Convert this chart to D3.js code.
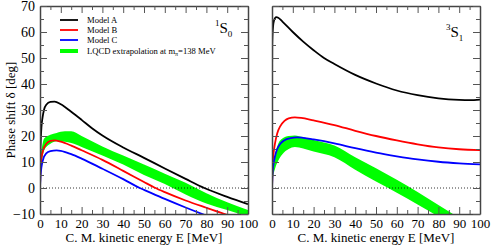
<!DOCTYPE html>
<html>
<head>
<meta charset="utf-8">
<script src="https://cdn.jsdelivr.net/npm/d3@7"></script>
<style>
body { margin: 0; background: #fff; }
svg { display: block; font-family: "Liberation Serif", "Times New Roman", serif; }
.axis path { stroke: #444; stroke-width: 1.5; }
.axis line { stroke: #555; stroke-width: 1; }
.axis text { font-family: "Liberation Serif", serif; fill: #000; }
</style>
</head>
<body>
<div id="chart"></div>
<script>
// [E (MeV), phase shift (deg)]
var s0ModelA = [[0,0],[0.15,12],[0.4,19],[0.7,23.5],[1.2,27],[2,30.3],[3,32],[5,33.1],[7,33.2],[10,32.2],[15,29.3],[20,26.2],[25,23],[30,20.2],[40,15.6],[50,11.6],[60,7.5],[70,3.5],[79,0],[90,-3.4],[100,-6.2]];
var s0ModelB = [[0,0],[0.3,8],[0.7,11.5],[1.5,14.5],[3,17],[5,18.1],[7,18.3],[10,17.8],[15,16.3],[20,14.5],[30,10.8],[40,6.6],[50,2.3],[55,0.2],[60,-1.6],[70,-4.8],[80,-7.6],[90,-10.3],[100,-12.8]];
var s0ModelC = [[0,0],[0.3,5],[0.7,8],[1.5,11],[3,13.3],[5,14.2],[8,14.5],[10,14.3],[15,13],[20,11.3],[30,7.4],[40,3.4],[48,0],[50,-0.7],[60,-4.2],[70,-7.5],[80,-10.6],[90,-13.4],[100,-16]];
var s0BandE = [0.3,2,5,8,12,15,20,30,40,50,60,70,80,90,100];
var s0BandHi = [12,19,20.5,21.2,21.8,21.8,20,16,12.5,9,5.5,2,-2,-5.5,-8.5];
var s0BandLo = [6,14.5,17,18,17.8,17.3,15.8,12.5,9,5,1.5,-2.5,-6,-8.5,-11];

var s1ModelA = [[0,0],[0.02,40],[0.1,55],[0.4,61],[1,64.5],[2,65.7],[3,65.5],[5,64],[10,60],[15,56.3],[20,53],[25,50],[30,47.7],[40,43.5],[50,40.2],[60,37.5],[70,35.7],[80,34.5],[90,33.9],[95,33.8],[100,34]];
var s1ModelB = [[0,0],[0.3,9],[0.7,13],[1.4,17],[2.5,21],[4,23.8],[6,25.8],[8,26.8],[11,27.2],[14,27],[20,26],[30,24.2],[40,22],[50,20],[60,18.3],[70,16.8],[80,15.6],[90,14.9],[100,14.6]];
var s1ModelC = [[0,0],[0.3,6],[0.7,9],[1.4,12],[2.5,15],[4,17],[6,18.4],[9,19.2],[12,19.5],[15,19.3],[20,18.7],[30,17.2],[40,15.3],[50,13.6],[60,12.2],[70,11],[80,10.1],[90,9.5],[100,9.1]];
var s1BandE = [0,0.5,1.5,3,5,8,11,15,20,30,40,50,60,70,80,90];
var s1BandHi = [0,8,13,17,19,20,20.2,19.5,18.5,16.3,11.8,7.6,3.2,-1.5,-6.5,-11.5];
var s1BandLo = [0,4,7.5,10.5,13,15,15.8,15.2,14,11.8,7,2.5,-1.8,-6.3,-11,-16];

var xTicks = [0,10,20,30,40,50,60,70,80,90,100];
var yTicks = [-10,0,10,20,30,40,50,60,70];
var legendNames = ["Model A", "Model B", "Model C", "LQCD extrapolation at m"];
var legendColors = ["#000000", "#ff0000", "#0000ff", "#00ff00"];

var width = 491, height = 246;
var plotTop = 6, plotBottom = 214, panelW = 208;
var panelLeft = [40, 272];

var svg = d3.select("#chart").append("svg")
    .attr("width", width)
    .attr("height", height);

var y = d3.scaleLinear().domain([-10, 70]).range([plotBottom, plotTop]);

var line = function (x) {
    return d3.line()
        .x(function (d) { return x(d[0]); })
        .y(function (d) { return y(d[1]); })
        .curve(d3.curveMonotoneX);
};

function drawPanel(idx, models, bandE, bandHi, bandLo, label, sup, sub, labelPos) {
    var x0 = panelLeft[idx];
    var x = d3.scaleLinear().domain([0, 100]).range([x0, x0 + panelW]);
    var g = svg.append("g");

    g.append("clipPath").attr("id", "clip" + idx)
        .append("rect")
        .attr("x", x0).attr("y", plotTop)
        .attr("width", panelW).attr("height", plotBottom - plotTop);

    var plot = g.append("g").attr("clip-path", "url(#clip" + idx + ")");

    // LQCD band
    var area = d3.area()
        .x(function (d, i) { return x(bandE[i]); })
        .y0(function (d, i) { return y(bandLo[i]); })
        .y1(function (d, i) { return y(bandHi[i]); })
        .curve(d3.curveMonotoneX);
    plot.append("path")
        .datum(bandE)
        .attr("d", area)
        .attr("fill", "#00ff00");

    // zero line
    plot.append("line")
        .attr("x1", x(0)).attr("x2", x(100))
        .attr("y1", y(0)).attr("y2", y(0))
        .attr("stroke", "#000").attr("stroke-width", 0.8)
        .attr("stroke-dasharray", "1,2");

    models.forEach(function (m, i) {
        plot.append("path")
            .datum(m)
            .attr("d", line(x))
            .attr("fill", "none")
            .attr("stroke", legendColors[i])
            .attr("stroke-width", 1.8);
    });

    var minorX = d3.range(5, 100, 10);
    var minorY = d3.range(-5, 70, 10);

    // axes with inward ticks
    var bAxis = g.append("g").attr("class", "axis")
        .attr("transform", "translate(0," + plotBottom + ")")
        .call(d3.axisBottom(x).tickValues(xTicks).tickSizeInner(-7).tickSizeOuter(0).tickPadding(4));
    bAxis.selectAll("text").attr("font-size", 13).attr("dy", "0.75em").attr("y", 4);
    g.append("g").attr("class", "axis")
        .attr("transform", "translate(0," + plotBottom + ")")
        .call(d3.axisBottom(x).tickValues(minorX).tickSizeInner(-4).tickSizeOuter(0).tickFormat(""))
        .select(".domain").remove();

    g.append("g").attr("class", "axis")
        .attr("transform", "translate(0," + plotTop + ")")
        .call(d3.axisTop(x).tickValues(xTicks).tickSizeInner(-7).tickSizeOuter(0).tickFormat(""));
    g.append("g").attr("class", "axis")
        .attr("transform", "translate(0," + plotTop + ")")
        .call(d3.axisTop(x).tickValues(minorX).tickSizeInner(-4).tickSizeOuter(0).tickFormat(""))
        .select(".domain").remove();

    var lAxis = g.append("g").attr("class", "axis")
        .attr("transform", "translate(" + x0 + ",0)")
        .call(d3.axisLeft(y).tickValues(yTicks).tickSizeInner(-7).tickSizeOuter(0).tickPadding(5)
            .tickFormat(idx === 0 ? d3.format("d") : ""));
    lAxis.selectAll("text").attr("font-size", 14).attr("x", -5);
    g.append("g").attr("class", "axis")
        .attr("transform", "translate(" + x0 + ",0)")
        .call(d3.axisLeft(y).tickValues(minorY).tickSizeInner(-4).tickSizeOuter(0).tickFormat(""))
        .select(".domain").remove();

    g.append("g").attr("class", "axis")
        .attr("transform", "translate(" + (x0 + panelW) + ",0)")
        .call(d3.axisRight(y).tickValues(yTicks).tickSizeInner(-7).tickSizeOuter(0).tickFormat(""));
    g.append("g").attr("class", "axis")
        .attr("transform", "translate(" + (x0 + panelW) + ",0)")
        .call(d3.axisRight(y).tickValues(minorY).tickSizeInner(-4).tickSizeOuter(0).tickFormat(""))
        .select(".domain").remove();

    // x axis title
    g.append("text")
        .attr("x", x0 + panelW / 2)
        .attr("y", 242)
        .attr("text-anchor", "middle")
        .attr("font-size", 13)
        .text("C. M. kinetic energy E [MeV]");

    // partial wave label
    var t = g.append("text")
        .attr("x", labelPos[0]).attr("y", labelPos[1])
        .attr("font-size", 15);
    t.append("tspan").attr("font-size", 9).attr("dy", -7).text(sup);
    t.append("tspan").attr("dy", 7).text(label);
    t.append("tspan").attr("font-size", 9).attr("dy", 4).text(sub);
}

drawPanel(0, [s0ModelA, s0ModelB, s0ModelC], s0BandE, s0BandHi, s0BandLo, "S", "1", "0", [215, 33]);
drawPanel(1, [s1ModelA, s1ModelB, s1ModelC], s1BandE, s1BandHi, s1BandLo, "S", "3", "1", [446, 37]);

// y axis title
svg.append("text")
    .attr("transform", "translate(15," + ((plotTop + plotBottom) / 2) + ") rotate(-90)")
    .attr("text-anchor", "middle")
    .attr("font-size", 13)
    .text("Phase shift δ [deg]");

// legend
var legend = svg.append("g");
legendNames.forEach(function (name, i) {
    var ly = [20, 30, 40, 51][i];
    legend.append("line")
        .attr("x1", 60).attr("x2", 78)
        .attr("y1", ly).attr("y2", ly)
        .attr("stroke", legendColors[i])
        .attr("stroke-width", i === 3 ? 4 : 1.8);
    var t = legend.append("text")
        .attr("x", 87).attr("y", ly + 3)
        .attr("font-size", 8.6)
        .text(name);
    if (i === 3) {
        t.append("tspan").attr("font-size", 6).attr("dy", 2).text("π");
        t.append("tspan").attr("dy", -2).text("=138 MeV");
    }
});
</script>
</body>
</html>
